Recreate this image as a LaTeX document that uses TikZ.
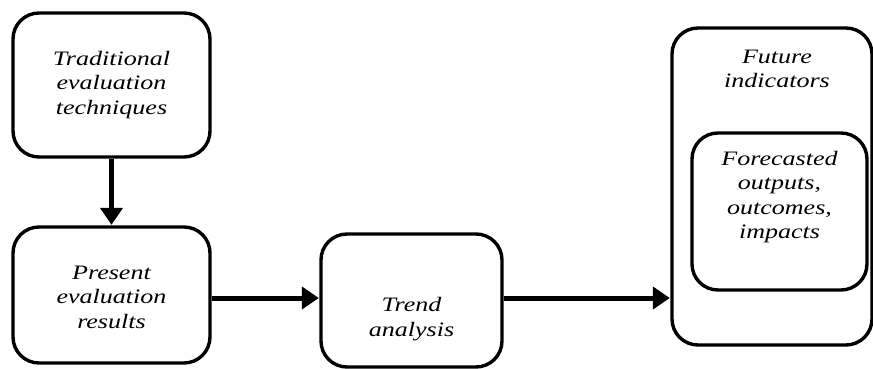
\documentclass[tikz,border=0pt]{standalone}
\usepackage{fontspec}
\setmainfont{Liberation Serif}
\newfontfamily\widefont[FakeStretch=1.27]{Liberation Serif}
\usetikzlibrary{arrows.meta}
\tikzset{
  rbox/.style={draw=black, line width=3.4pt, rounded corners=26pt, fill=white, inner sep=0pt},
  lbl/.style={align=center, font=\widefont\fontsize{20.5}{24.5}\selectfont\itshape, inner sep=0pt},
  flow/.style={line width=5pt, -{Triangle[length=17pt,width=22pt]}, shorten >=0.5pt}
}
\begin{document}
\begin{tikzpicture}[x=1pt,y=-1pt]
\useasboundingbox (0,0) rectangle (873,369);
% boxes
\node[rbox, minimum width=197pt, minimum height=144pt] (trad) at (111.5,85) {};
\node[lbl] (tradt) at (111.5,85) {Traditional\\evaluation\\techniques};
\node[rbox, minimum width=197pt, minimum height=136pt] (pres) at (111.5,295) {};
\node[lbl] (prest) at (111.5,297) {Present\\evaluation\\results};
\node[rbox, minimum width=181pt, minimum height=133pt] (trend) at (411.5,300.5) {};
\node[lbl] (trendt) at (411.5,319) {Trend\\analysis};
\node[rbox, minimum width=200pt, minimum height=317pt] (fut) at (772,186.5) {};
\node[lbl] (futt) at (777,69) {Future\\indicators};
\node[rbox, minimum width=175pt, minimum height=157pt] (fore) at (779.5,211.5) {};
\node[lbl] (foret) at (779.5,197) {Forecasted\\outputs,\\outcomes,\\impacts};
% connectors
\coordinate (ay) at (0,298);
\draw[flow] (trad.south) -- (pres.north);
\draw[flow] (pres.east|-ay) -- (trend.west|-ay);
\draw[flow] (trend.east|-ay) -- (fut.west|-ay);
\end{tikzpicture}
\end{document}
